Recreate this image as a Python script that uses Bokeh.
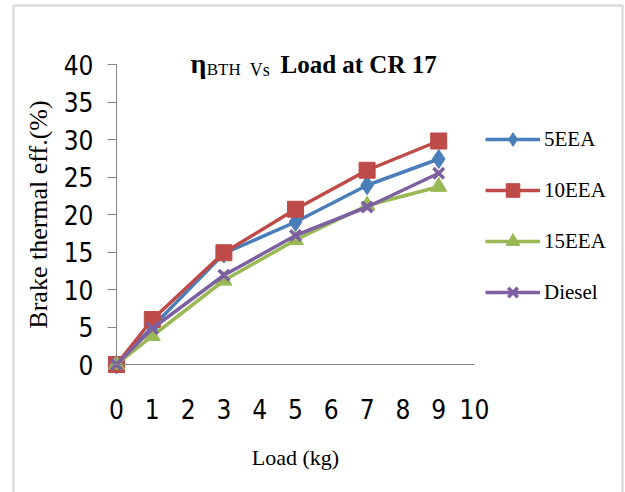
from bokeh.plotting import figure
from bokeh.models import Range1d, Legend, LegendItem, Label, FixedTicker, BoxAnnotation
from bokeh.embed import file_html
from bokeh.resources import INLINE

# ---- data ----
load = [0, 1, 3, 5, 7, 9]
eea5 = [0, 5.0, 14.8, 19.0, 23.9, 27.4]
eea10 = [0, 6.0, 14.9, 20.7, 25.9, 29.8]
eea15 = [0, 3.8, 11.2, 16.6, 21.2, 23.7]
diesel = [0, 4.8, 11.9, 17.2, 21.0, 25.5]
series_names = ["5EEA", "10EEA", "15EEA", "Diesel"]
x_ticks = list(range(0, 11))
y_ticks = list(range(0, 41, 5))

SANS = "Liberation Sans Narrow, Arial Narrow, DejaVu Sans Condensed, sans-serif"
SERIF = "Liberation Serif, Times New Roman, serif"

W, H = 625, 492
# pixel anchors of the data origin and scale
X0, PX_X = 116.0, 35.8
Y0, PX_Y = 364.0, 7.5

p = figure(width=W, height=H, output_backend="svg", toolbar_location=None,
           x_range=Range1d(-X0 / PX_X, (W - X0) / PX_X),
           y_range=Range1d(-(H - Y0) / PX_Y, Y0 / PX_Y),
           min_border_left=0, min_border_right=0, min_border_top=0, min_border_bottom=0)
p.outline_line_color = None
p.xgrid.visible = False
p.ygrid.visible = False
p.background_fill_color = "white"
p.border_fill_color = "white"

# chart-area border
p.add_layout(BoxAnnotation(left=13, right=622, top=5, bottom=700,
                           left_units="canvas", right_units="canvas",
                           top_units="canvas", bottom_units="canvas",
                           fill_alpha=0, line_color="#8c8c8c", line_width=2.5))

# axes
p.yaxis.fixed_location = 0
p.xaxis.fixed_location = 0
p.yaxis.bounds = (0, 40)
p.xaxis.bounds = (0, 10)
p.yaxis.ticker = FixedTicker(ticks=y_ticks)
p.xaxis.ticker = FixedTicker(ticks=x_ticks)
for ax in (p.xaxis[0], p.yaxis[0]):
    ax.axis_line_color = "#868686"
    ax.axis_line_width = 1
    ax.major_tick_line_color = "#868686"
    ax.minor_tick_line_color = None
    ax.major_label_text_font = SANS
    ax.major_label_text_font_size = "26px"
    ax.major_label_text_color = "#000000"
    ax.axis_label_text_font = SERIF
    ax.axis_label_text_font_style = "normal"
    ax.axis_label_text_color = "#000000"
p.yaxis.major_tick_in = 0
p.yaxis.major_tick_out = 9
p.yaxis.major_label_standoff = 14
p.yaxis.axis_label = "Brake thermal eff.(%)"
p.yaxis.axis_label_text_font_size = "26px"
p.yaxis.axis_label_standoff = 8
p.xaxis.major_tick_in = 0
p.xaxis.major_tick_out = 0
p.xaxis.major_label_standoff = 34
p.xaxis.axis_label = "Load (kg)"
p.xaxis.axis_label_text_font_size = "22px"
p.xaxis.axis_label_standoff = 23

colors = ["#4A7EBB", "#BE4B48", "#98B954", "#7D60A0"]
values = [eea5, eea10, eea15, diesel]
items = []
for name, ys, c in zip(series_names, values, colors):
    ln = p.line(load, ys, line_color=c, line_width=3.5)
    if name == "5EEA":
        mk = p.scatter(load, ys, marker="diamond", size=19, fill_color=c, line_color=c)
    elif name == "10EEA":
        mk = p.scatter(load, ys, marker="square", size=16, fill_color=c, line_color=c)
    elif name == "15EEA":
        mk = p.scatter(load, ys, marker="triangle", size=16, fill_color=c, line_color=c)
    else:
        mk = p.scatter(load, ys, marker="x", size=15, line_color=c, line_width=3.5)
    items.append(LegendItem(label=name, renderers=[ln, mk]))

legend = Legend(items=items, location=(485, 183), padding=0, margin=0,
                glyph_width=55, glyph_height=34, label_height=20, spacing=17,
                label_standoff=4, label_text_font=SERIF, label_text_font_size="21px",
                label_text_color="#000000", background_fill_alpha=0,
                border_line_color=None)
p.add_layout(legend, "center")

# title pieces
title_parts = [
    ("\u03b7", 2.07, 40.1, "28px", "bold"),
    ("BTH", 2.52, 39.3, "17px", "normal"),
    ("Vs", 3.72, 39.3, "18px", "normal"),
    ("Load at CR 17", 4.58, 40.0, "25px", "bold"),
]
for txt, tx, ty, fs, st in title_parts:
    p.add_layout(Label(x=tx, y=ty, text=txt, text_font=SERIF, text_font_size=fs,
                       text_font_style=st, text_color="#000000",
                       text_baseline="alphabetic", text_align="left"))

open("out.html", "w").write(file_html(p, INLINE))
